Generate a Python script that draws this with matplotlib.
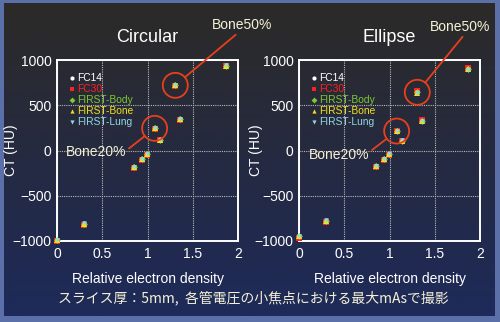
import numpy as np
import matplotlib
matplotlib.use("Agg")
import matplotlib.pyplot as plt
from matplotlib.patches import Ellipse
from matplotlib.lines import Line2D

# ---- data -------------------------------------------------------------
rel_density = [0.0, 0.295, 0.847, 0.943, 0.994, 1.079, 1.142, 1.307, 1.359, 1.867]

circ_fc14 = [-990, -810, -186, -97, -42, 245, 116, 720, 348, 937]
circ_fc30 = [-1002, -822, -192, -101, -46, 240, 112, 714, 342, 932]
circ_body = [-992, -812, -186, -97, -42, 245, 116, 720, 348, 937]
circ_bone = [-990, -808, -184, -95, -40, 247, 118, 722, 350, 939]
circ_lung = [-986, -806, -183, -94, -39, 248, 119, 723, 351, 940]

ell_fc14 = [-945, -775, -175, -97, -42, 215, 108, 643, 329, 900]
ell_fc30 = [-968, -795, -180, -101, -46, 212, 105, 660, 335, 916]
ell_body = [-948, -778, -176, -97, -42, 215, 108, 643, 329, 900]
ell_bone = [-945, -775, -175, -96, -41, 216, 109, 640, 327, 897]
ell_lung = [-940, -770, -173, -94, -39, 218, 111, 638, 325, 893]

series_names = ["FC14", "FC30", "FIRST-Body", "FIRST-Bone", "FIRST-Lung"]
series_colors = ["#ffffff", "#ff2020", "#7cc832", "#f0e020", "#8fd8e8"]
series_markers = ["o", "s", "D", "^", "v"]

x_ticks = [0, 0.5, 1, 1.5, 2]
y_ticks = [-1000, -500, 0, 500, 1000]
y_tick_labels = ["\u22121000", "\u2212500", "0", "500", "1000"]

bone20_idx = 5
bone50_idx = 7

panels = [
    ("Circular", [circ_fc14, circ_fc30, circ_body, circ_bone, circ_lung]),
    ("Ellipse", [ell_fc14, ell_fc30, ell_body, ell_bone, ell_lung]),
]

caption = "スライス厚：5mm,  各管電圧の小焦点における最大mAsで撮影"

# ---- style ------------------------------------------------------------
plt.rcParams["font.family"] = ["Liberation Sans", "DejaVu Sans"]
W, H = 500, 322
fig = plt.figure(figsize=(W / 100, H / 100), dpi=100)
fig.patch.set_facecolor("#5b70a8")

# dark gradient panel
bg = fig.add_axes([4 / W, 6 / H, 491 / W, 313 / H], zorder=-5)
top = np.array([0x2c, 0x2a, 0x28]) / 255
bot = np.array([0x1e, 0x2a, 0x5a]) / 255
t = np.linspace(0, 1, 256)[:, None]
grad = top[None, :] * (1 - t) + bot[None, :] * t
bg.imshow(grad[:, None, :], aspect="auto", extent=[0, 1, 0, 1])
bg.set_axis_off()

cream = "#f6f2d6"
red = "#e8401c"

ax_lefts = [57, 299]
ylabel_x = [18, 263]
text_pos = {
    # (bone50 text center px, bone50 relpos, bone20 text center px, bone20 relpos)
    0: ((242, 25), (0.45, 0.0), (96, 152), (1.0, 0.6)),
    1: ((460, 27), (0.58, 0.0), (339, 155), (1.0, 0.7)),
}

for k, (title, ys) in enumerate(panels):
    ax = fig.add_axes([ax_lefts[k] / W, 81 / H, 181 / W, 181 / H])
    ax.set_facecolor("none")
    ax.set_xlim(0, 2)
    ax.set_ylim(-1000, 1000)
    ax.set_xticks(x_ticks)
    ax.set_xticklabels([f"{v:g}" for v in x_ticks])
    ax.set_yticks(y_ticks)
    ax.set_yticklabels(y_tick_labels)
    ax.tick_params(colors="white", labelsize=10, length=0, pad=4)
    for s in ax.spines.values():
        s.set_color("white")
        s.set_linewidth(1.4)
    ax.grid(True, color="#b8b8b8", linestyle=(0, (1, 1)), linewidth=0.8)
    ax.set_axisbelow(True)

    order = [1, 0, 2, 3, 4]
    sizes = [3.8, 3.8, 3.4, 3.8, 3.2]
    for z, i in enumerate(order):
        ax.plot(rel_density, ys[i], linestyle="none", marker=series_markers[i],
                color=series_colors[i], markersize=sizes[i], markeredgewidth=0,
                zorder=3 + z, clip_on=False)

    ax.set_title(title, color="white", fontsize=13, pad=13)
    ax.set_xlabel("Relative electron density", color="white", fontsize=10, labelpad=8)
    ax.set_ylabel("CT (HU)", color="white", fontsize=10)
    ax.yaxis.set_label_coords((ylabel_x[k] - ax_lefts[k]) / 181, 0.5)

    # legend
    handles = [Line2D([], [], linestyle="none", marker=series_markers[i],
                      color=series_colors[i], markersize=3, markeredgewidth=0)
               for i in range(5)]
    ax.legend(handles, series_names, loc="upper left",
              bbox_to_anchor=(0.045, 0.955), frameon=False, fontsize=7.4,
              handlelength=0.4, handletextpad=0.3, labelspacing=0.1,
              borderpad=0, labelcolor=series_colors)

    # highlighted points: circles + callouts
    fc14 = ys[0]
    r_px = 12.5
    for idx, (tpos, rel, label) in (
        (bone50_idx, (text_pos[k][0], text_pos[k][1], "Bone50%")),
        (bone20_idx, (text_pos[k][2], text_pos[k][3], "Bone20%")),
    ):
        cx, cy = rel_density[idx], fc14[idx]
        ax.add_patch(Ellipse((cx, cy), width=2 * r_px / 90.5, height=2 * r_px / 0.0905,
                             fill=False, edgecolor=red, linewidth=1.3,
                             zorder=10, clip_on=False))
        ax.annotate(label, xy=(cx, cy), xycoords="data",
                    xytext=(tpos[0] / W, 1 - tpos[1] / H), textcoords="figure fraction",
                    ha="center", va="center", color=cream, fontsize=10,
                    annotation_clip=False, zorder=11,
                    arrowprops=dict(arrowstyle="-", color=red, lw=1.3,
                                    shrinkA=0, shrinkB=r_px * 0.72, relpos=rel))

fig.text(58 / W, 1 - 298 / H, caption, color=cream, fontsize=10,
         ha="left", va="center", family=["Noto Sans CJK JP", "DejaVu Sans"])

fig.savefig("out.png", dpi=100, facecolor=fig.get_facecolor())
